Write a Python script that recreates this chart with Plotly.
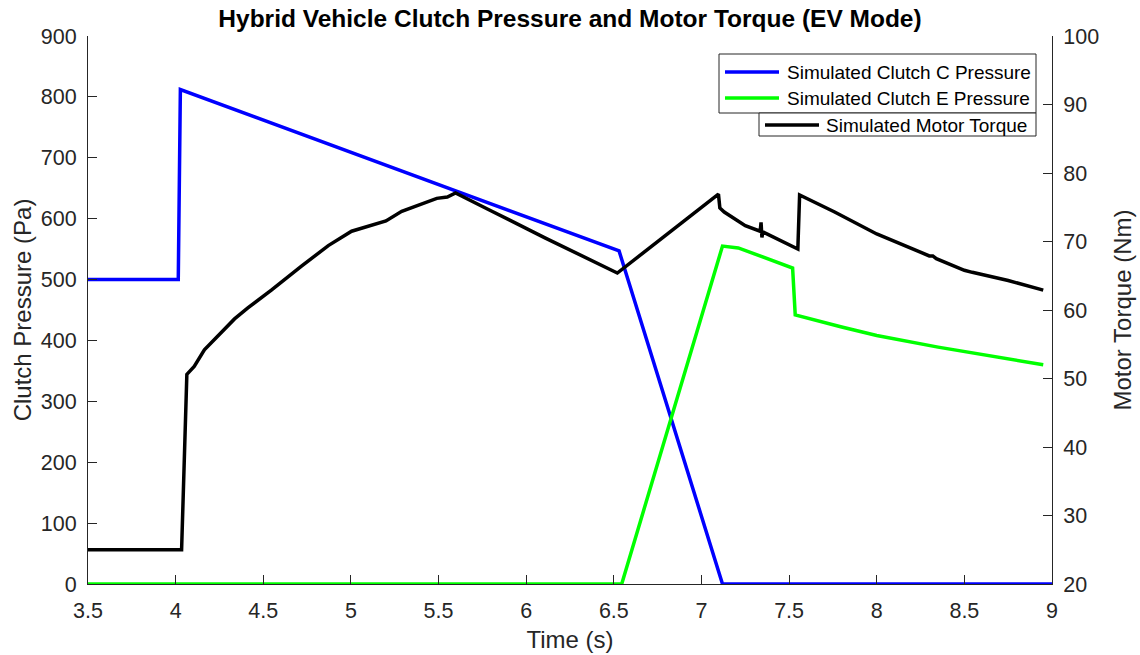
import plotly.graph_objects as go

# Clutch C pressure (Pa) vs time (s)
time_c = [3.5, 4.015, 4.027, 6.53, 7.12, 9.0]
clutch_c = [500, 500, 812, 547, 0, 0]

# Clutch E pressure (Pa) vs time (s)
time_e = [3.5, 6.545, 7.12, 7.21, 7.52, 7.535, 7.8, 8.0, 8.35, 8.7, 8.95]
clutch_e = [0, 0, 555, 552, 519, 442, 422, 408, 389, 372, 360]

# Motor torque (Nm) vs time (s)
time_t = [3.5, 4.034, 4.064, 4.106, 4.164, 4.259, 4.336, 4.412, 4.546, 4.718,
          4.871, 5.004, 5.2, 5.29, 5.4, 5.49, 5.55, 5.597, 5.79, 6.11, 6.52,
          7.09, 7.097, 7.105, 7.13, 7.25, 7.335, 7.34, 7.345, 7.35, 7.55, 7.56,
          7.76, 8.0, 8.3, 8.32, 8.34, 8.5, 8.52, 8.545, 8.75, 8.95]
torque = [25, 25, 50.6, 51.75, 54.2, 56.6, 58.7, 60.3, 62.9, 66.4,
          69.4, 71.5, 73.0, 74.4, 75.5, 76.3, 76.5, 77.1, 74.6, 70.5, 65.4,
          76.9, 76.9, 74.9, 74.3, 72.3, 71.5, 72.8, 70.6, 71.4, 68.9, 76.8,
          74.3, 71.1, 67.9, 67.9, 67.5, 65.8, 65.7, 65.5, 64.3, 62.9]

series_names = ["Simulated Clutch C Pressure", "Simulated Clutch E Pressure",
                "Simulated Motor Torque"]
series_colors = ["#0000FF", "#00FF00", "#000000"]

ink = "#262626"
font_family = "Liberation Sans, Arial, sans-serif"
line_w = 3.5

# plot-area geometry in pixels (used to place the legend boxes)
W, H = 1140, 655
ML, MR, MT, MB = 88, 88, 36, 71
PW, PH = W - ML - MR, H - MT - MB


def px(x):
    return (x - ML) / PW


def py(y):
    return (H - MB - y) / PH


fig = go.Figure()
fig.add_trace(go.Scatter(x=time_c, y=clutch_c, mode="lines", name=series_names[0],
                         line=dict(color=series_colors[0], width=line_w),
                         cliponaxis=False, showlegend=False))
fig.add_trace(go.Scatter(x=time_e, y=clutch_e, mode="lines", name=series_names[1],
                         line=dict(color=series_colors[1], width=line_w),
                         cliponaxis=False, showlegend=False))
fig.add_trace(go.Scatter(x=time_t, y=torque, mode="lines", yaxis="y2", name=series_names[2],
                         line=dict(color=series_colors[2], width=line_w),
                         cliponaxis=False, showlegend=False))

axis_common = dict(
    showgrid=False, zeroline=False, showline=True, linecolor=ink, linewidth=1,
    ticks="inside", ticklen=9, tickcolor=ink, tickwidth=1, automargin=False,
    tickfont=dict(family=font_family, size=21.5, color=ink),
)
title_font = dict(family=font_family, size=24, color=ink)

# Legend: two bordered boxes (left-axis series, then right-axis series)
shapes = [
    dict(type="rect", xref="paper", yref="paper", x0=px(719), x1=px(1036),
         y0=py(113), y1=py(54), line=dict(color=ink, width=1), fillcolor="white", layer="above"),
    dict(type="rect", xref="paper", yref="paper", x0=px(759), x1=px(1036),
         y0=py(136), y1=py(113), line=dict(color=ink, width=1), fillcolor="white", layer="above"),
]
legend_rows = [(725, 785, 72), (725, 785, 98), (765, 824, 125)]
annotations = []
for (lx, tx, ry), name, color in zip(legend_rows, series_names, series_colors):
    shapes.append(dict(type="line", xref="paper", yref="paper",
                       x0=px(lx), x1=px(lx + 54), y0=py(ry), y1=py(ry),
                       line=dict(color=color, width=line_w), layer="above"))
    annotations.append(dict(text=name, xref="paper", yref="paper", x=px(tx), y=py(ry),
                            xanchor="left", yanchor="middle", showarrow=False,
                            font=dict(family=font_family, size=19, color="#000000")))

fig.update_layout(
    width=W, height=H,
    margin=dict(l=ML, r=MR, t=MT, b=MB),
    paper_bgcolor="white", plot_bgcolor="white",
    title=dict(text="<b>Hybrid Vehicle Clutch Pressure and Motor Torque (EV Mode)</b>",
               x=0.5, xanchor="center", y=1 - 18 / H, yanchor="middle",
               font=dict(family=font_family, size=24.5, color="#000000")),
    xaxis=dict(range=[3.5, 9.0], tickvals=[3.5, 4, 4.5, 5, 5.5, 6, 6.5, 7, 7.5, 8, 8.5, 9],
               ticktext=["3.5", "4", "4.5", "5", "5.5", "6", "6.5", "7", "7.5", "8", "8.5", "9"],
               ticklabelstandoff=7,
               title=dict(text="Time (s)", standoff=9, font=title_font),
               **axis_common),
    yaxis=dict(range=[0, 900], tickvals=list(range(0, 901, 100)),
               ticklabelstandoff=6,
               title=dict(text="Clutch Pressure (Pa)", standoff=2, font=title_font),
               **axis_common),
    yaxis2=dict(range=[20, 100], tickvals=list(range(20, 101, 10)),
                overlaying="y", side="right", ticklabelstandoff=6,
                title=dict(text="Motor Torque (Nm)", standoff=15, font=title_font),
                **axis_common),
    shapes=shapes,
    annotations=annotations,
    showlegend=False,
)

fig.write_html("out.html")
